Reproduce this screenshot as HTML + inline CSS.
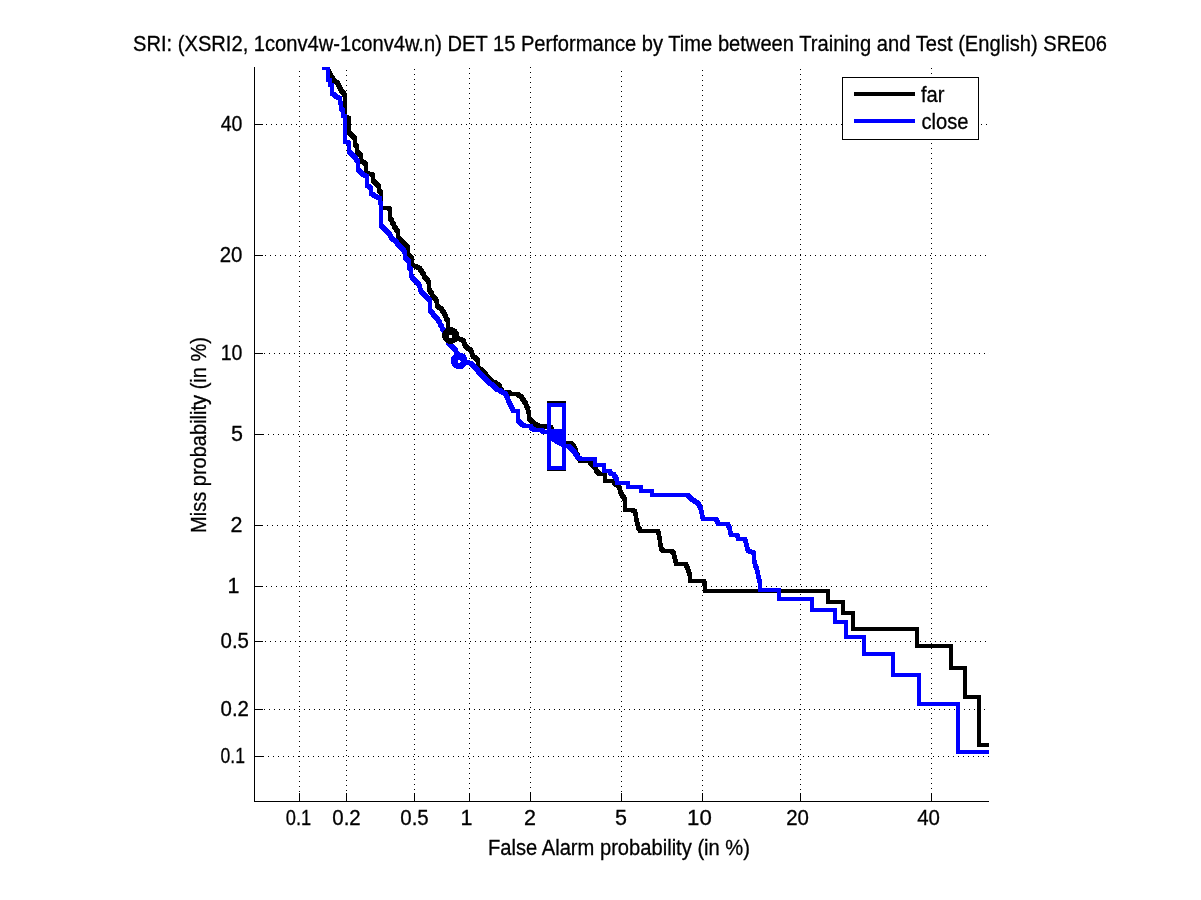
<!DOCTYPE html>
<html><head><meta charset="utf-8"><style>
html,body{margin:0;padding:0;background:#fff;}
svg{display:block;}
text{font-family:"Liberation Sans",Arial,sans-serif;font-size:21.5px;fill:#000;stroke:#000;stroke-width:0.3px;}
.tx{filter:grayscale(1);}
.g{stroke:#000;stroke-width:1;stroke-dasharray:1 4;shape-rendering:crispEdges;}
.a{stroke:#000;stroke-width:1;shape-rendering:crispEdges;}
.c{fill:none;stroke-width:4;stroke-linejoin:miter;stroke-linecap:square;shape-rendering:crispEdges;}
</style></head><body>
<svg width="1201" height="900" viewBox="0 0 1201 900">
<rect width="1201" height="900" fill="#fff"/>
<g>
<line x1="299.5" y1="71" x2="299.5" y2="801" class="g"/>
<line x1="346.5" y1="70" x2="346.5" y2="801" class="g"/>
<line x1="414.5" y1="69" x2="414.5" y2="801" class="g"/>
<line x1="469.5" y1="68" x2="469.5" y2="801" class="g"/>
<line x1="530.5" y1="67" x2="530.5" y2="801" class="g"/>
<line x1="621.5" y1="71" x2="621.5" y2="801" class="g"/>
<line x1="702.5" y1="70" x2="702.5" y2="801" class="g"/>
<line x1="800.5" y1="69" x2="800.5" y2="801" class="g"/>
<line x1="931.5" y1="68" x2="931.5" y2="801" class="g"/>
<line x1="256" y1="124.5" x2="989" y2="124.5" class="g"/>
<line x1="255" y1="255.5" x2="989" y2="255.5" class="g"/>
<line x1="254" y1="353.5" x2="989" y2="353.5" class="g"/>
<line x1="258" y1="434.5" x2="989" y2="434.5" class="g"/>
<line x1="257" y1="525.5" x2="989" y2="525.5" class="g"/>
<line x1="256" y1="586.5" x2="989" y2="586.5" class="g"/>
<line x1="255" y1="641.5" x2="989" y2="641.5" class="g"/>
<line x1="254" y1="709.5" x2="989" y2="709.5" class="g"/>
<line x1="258" y1="756.5" x2="989" y2="756.5" class="g"/>
</g>
<g>
<line x1="254.5" y1="67" x2="254.5" y2="802" class="a"/>
<line x1="254" y1="801.5" x2="989" y2="801.5" class="a"/>
<line x1="299.5" y1="793" x2="299.5" y2="802" class="a"/>
<line x1="346.5" y1="793" x2="346.5" y2="802" class="a"/>
<line x1="414.5" y1="793" x2="414.5" y2="802" class="a"/>
<line x1="469.5" y1="793" x2="469.5" y2="802" class="a"/>
<line x1="530.5" y1="793" x2="530.5" y2="802" class="a"/>
<line x1="621.5" y1="793" x2="621.5" y2="802" class="a"/>
<line x1="702.5" y1="793" x2="702.5" y2="802" class="a"/>
<line x1="800.5" y1="793" x2="800.5" y2="802" class="a"/>
<line x1="931.5" y1="793" x2="931.5" y2="802" class="a"/>
<line x1="254" y1="124.5" x2="263" y2="124.5" class="a"/>
<line x1="254" y1="255.5" x2="263" y2="255.5" class="a"/>
<line x1="254" y1="353.5" x2="263" y2="353.5" class="a"/>
<line x1="254" y1="434.5" x2="263" y2="434.5" class="a"/>
<line x1="254" y1="525.5" x2="263" y2="525.5" class="a"/>
<line x1="254" y1="586.5" x2="263" y2="586.5" class="a"/>
<line x1="254" y1="641.5" x2="263" y2="641.5" class="a"/>
<line x1="254" y1="709.5" x2="263" y2="709.5" class="a"/>
<line x1="254" y1="756.5" x2="263" y2="756.5" class="a"/>
</g>
<g class="tx">
<text x="298.50" y="825.00" text-anchor="middle" textLength="25.41" lengthAdjust="spacingAndGlyphs">0.1</text>
<text x="346.50" y="825.00" text-anchor="middle" textLength="28.41" lengthAdjust="spacingAndGlyphs">0.2</text>
<text x="414.50" y="825.00" text-anchor="middle" textLength="28.41" lengthAdjust="spacingAndGlyphs">0.5</text>
<text x="466.50" y="825.00" text-anchor="middle">1</text>
<text x="530.00" y="825.00" text-anchor="middle">2</text>
<text x="621.00" y="825.00" text-anchor="middle">5</text>
<text x="699.50" y="825.00" text-anchor="middle" textLength="24.72" lengthAdjust="spacingAndGlyphs">10</text>
<text x="797.50" y="825.00" text-anchor="middle" textLength="22.72" lengthAdjust="spacingAndGlyphs">20</text>
<text x="928.50" y="825.00" text-anchor="middle" textLength="22.72" lengthAdjust="spacingAndGlyphs">40</text>
<text x="242.50" y="131.00" text-anchor="end" textLength="21.72" lengthAdjust="spacingAndGlyphs">40</text>
<text x="242.50" y="262.00" text-anchor="end" textLength="22.72" lengthAdjust="spacingAndGlyphs">20</text>
<text x="242.50" y="360.00" text-anchor="end" textLength="21.72" lengthAdjust="spacingAndGlyphs">10</text>
<text x="243.00" y="441.00" text-anchor="end">5</text>
<text x="242.50" y="532.00" text-anchor="end">2</text>
<text x="239.50" y="593.00" text-anchor="end">1</text>
<text x="249.00" y="648.00" text-anchor="end" textLength="28.41" lengthAdjust="spacingAndGlyphs">0.5</text>
<text x="249.00" y="716.00" text-anchor="end" textLength="28.41" lengthAdjust="spacingAndGlyphs">0.2</text>
<text x="245.00" y="763.00" text-anchor="end" textLength="24.41" lengthAdjust="spacingAndGlyphs">0.1</text>
<text x="133.00" y="51.00" textLength="974.00" lengthAdjust="spacingAndGlyphs">SRI: (XSRI2, 1conv4w-1conv4w.n) DET 15 Performance by Time between Training and Test (English) SRE06</text>
<text x="488.00" y="855.00" textLength="262.00" lengthAdjust="spacingAndGlyphs">False Alarm probability (in %)</text>
<g transform="translate(206,531) rotate(-90)"><text x="-2.00" y="0.00" textLength="196.00" lengthAdjust="spacingAndGlyphs">Miss probability (in %)</text></g>
</g>
<svg x="254" y="67" width="735" height="734" viewBox="254 67 735 734" overflow="hidden">
<polyline class="c" stroke="#000" points="328,30 328,70 328,71 329,71 329,72 329,73 330,73 330,74 330,75 331,75 331,76 331,77 332,77 332,78 333,78 333,79 333,80 334,80 334,81 335,81 335,82 336,82 337,82 337,83 338,83 338,84 338,85 339,85 339,86 339,87 340,87 340,88 340,89 341,89 341,90 341,91 342,91 342,92 343,92 343,93 344,93 344,94 344,95 345,95 345,96 345,117 346,117 347,117 347,118 348,118 349,118 349,133 350,133 350,134 351,134 351,135 352,135 352,136 353,136 353,137 354,137 354,138 355,138 355,139 355,145 356,145 356,146 357,146 357,152 358,152 358,153 359,153 359,154 360,154 360,155 361,155 361,156 361,161 362,161 362,162 363,162 364,162 364,163 365,163 365,164 366,164 366,173 367,173 368,173 368,174 369,174 370,174 371,174 372,174 372,175 373,175 373,181 374,181 374,182 375,182 375,183 376,183 376,184 377,184 377,185 378,185 378,186 379,186 379,187 379,191 380,191 380,192 381,192 381,193 381,208 388,208 389,208 389,209 390,209 390,210 390,218 390,219 391,219 391,220 392,220 392,221 392,222 392,223 393,223 393,224 394,224 394,225 394,226 394,227 395,227 395,228 396,228 396,229 396,230 397,230 397,231 398,231 398,232 398,238 399,238 399,239 400,239 400,240 401,240 401,241 402,241 402,242 403,242 403,243 404,243 404,244 405,244 405,245 406,245 406,246 407,246 407,247 408,247 408,248 408,255 409,255 409,256 410,256 410,257 411,257 411,258 412,258 412,259 412,265 413,265 413,266 414,266 415,266 416,266 416,267 417,267 418,267 418,268 419,268 420,268 420,269 420,270 421,270 421,271 422,271 422,272 422,273 423,273 423,274 424,274 424,275 424,276 424,277 425,277 425,278 426,278 426,279 427,279 427,280 428,280 428,281 428,282 429,282 429,283 429,284 429,290 430,290 430,291 430,292 431,292 431,293 432,293 432,294 432,295 432,296 433,296 433,297 434,297 434,298 435,298 435,299 436,299 436,300 436,301 437,301 437,302 437,303 437,306 438,306 438,307 439,307 439,308 440,308 441,308 441,309 442,309 442,310 442,311 443,311 443,312 444,312 444,313 444,314 445,314 445,315 445,316 446,316 446,317 446,318 446,319 447,319 447,320 448,320 448,321 448,322 448,328 448,329 449,329 449,330 449,331 449,332 449,333 450,333 450,334 450,335 451,335 451,336 452,336 453,336 453,337 454,337 455,337 455,338 456,338 457,338 458,338 458,339 459,339 460,339 461,339 461,340 462,340 463,340 463,341 464,341 464,342 464,343 464,344 465,344 465,345 465,346 466,346 466,347 467,347 467,348 468,348 468,349 469,349 470,349 470,350 471,350 471,351 471,352 472,352 472,353 472,354 472,355 473,355 473,356 473,357 474,357 475,357 475,358 476,358 476,359 477,359 477,360 478,360 478,361 478,362 478,368 479,368 479,369 480,369 481,369 481,370 482,370 482,371 483,371 483,372 484,372 484,373 485,373 485,374 486,374 486,375 486,376 487,376 487,377 488,377 488,378 489,378 489,379 490,379 490,380 491,380 491,381 492,381 492,382 493,382 494,382 495,382 495,383 496,383 496,384 497,384 498,384 498,385 499,385 499,386 500,386 500,387 500,388 500,389 501,389 501,390 502,390 502,391 502,392 508,392 509,392 509,393 510,393 510,394 516,394 517,394 518,394 518,395 519,395 519,396 520,396 521,396 521,397 522,397 522,398 522,399 523,399 523,400 524,400 524,401 524,402 525,402 525,403 526,403 526,404 526,405 526,406 527,406 527,407 527,408 528,408 528,409 528,410 528,411 528,412 529,412 529,413 529,414 529,415 529,419 530,419 530,420 531,420 531,421 532,421 532,422 533,422 533,423 534,423 534,424 535,424 536,424 536,425 537,425 538,425 538,426 539,426 540,426 541,426 542,426 543,426 544,426 545,426 546,426 546,427 547,427 548,427 549,427 550,427 551,427 551,428 551,429 552,429 552,430 552,431 552,432 552,433 553,433 553,434 554,434 554,435 554,436 555,436 555,437 556,437 556,438 557,438 557,439 558,439 558,440 559,440 559,441 560,441 560,442 561,442 561,443 570,443 571,443 571,444 572,444 572,445 573,445 573,446 574,446 574,447 574,448 575,448 575,449 575,450 576,450 576,451 576,452 576,453 576,454 577,454 577,455 578,455 578,456 578,457 578,458 579,458 579,459 580,459 580,460 580,461 589,461 590,461 590,462 590,463 591,463 591,464 592,464 592,465 593,465 593,466 594,466 594,467 595,467 595,468 596,468 596,469 596,470 596,471 597,471 597,472 598,472 598,473 599,473 599,474 605,474 605,481 613,481 614,481 614,482 614,483 615,483 615,484 616,484 616,485 617,485 618,485 618,486 619,486 619,487 619,488 620,488 620,489 620,490 620,491 620,492 621,492 621,493 621,494 622,494 622,495 622,496 623,496 623,497 624,497 624,498 624,499 625,499 625,500 625,510 632,510 633,510 633,511 634,511 635,511 635,512 635,513 635,514 636,514 636,515 636,516 636,517 636,518 636,519 636,520 637,520 637,521 637,522 637,523 637,524 638,524 638,525 638,526 638,527 638,528 639,528 639,529 640,529 640,530 640,531 658,531 658,532 658,533 659,533 659,534 659,535 659,536 659,537 659,538 660,538 660,539 660,540 660,541 660,542 660,543 660,544 660,545 661,545 661,546 661,547 661,548 661,549 662,549 662,550 663,550 663,551 672,551 672,552 673,552 673,553 674,553 674,554 674,555 674,556 674,557 675,557 675,558 675,559 675,560 675,561 676,561 676,562 676,563 676,564 686,564 686,565 686,566 687,566 687,567 687,568 688,568 688,569 688,570 688,571 689,571 689,572 689,573 689,574 690,574 690,575 690,576 690,577 690,581 704,581 704,582 704,583 705,583 705,584 705,585 705,591 828,591 828,602 843,602 843,613 853,613 853,629 917,629 917,646 951,646 951,668 965,668 965,697 979,697 979,745 995,745"/>
<polyline class="c" stroke="#00f" points="324,30 324,68 328,68 328,80 330,80 330,85 332,85 332,94 333,94 334,94 334,95 335,95 335,96 336,96 336,97 337,97 338,97 338,98 339,98 340,98 340,99 340,103 341,103 341,104 341,109 342,109 342,110 343,110 343,116 344,116 345,116 345,117 345,142 346,142 347,142 348,142 348,143 349,143 349,152 350,152 350,153 351,153 351,154 352,154 352,155 353,155 353,156 354,156 354,157 355,157 355,158 356,158 356,159 356,160 357,160 357,161 358,161 358,162 358,163 358,170 359,170 359,171 360,171 360,172 361,172 361,173 362,173 362,174 363,174 363,175 364,175 365,175 365,176 366,176 367,176 367,177 367,186 368,186 369,186 369,187 370,187 370,188 371,188 371,189 371,194 372,194 373,194 373,195 374,195 374,196 375,196 376,196 376,197 377,197 378,197 378,198 379,198 380,198 380,199 380,203 381,203 381,204 381,226 382,226 382,227 383,227 383,228 384,228 384,229 385,229 385,230 386,230 386,231 387,231 387,232 388,232 388,233 389,233 389,234 390,234 390,235 390,236 391,236 391,237 391,238 392,238 392,239 393,239 393,240 394,240 395,240 395,241 396,241 396,242 397,242 397,243 397,244 398,244 398,245 399,245 399,246 400,246 400,247 401,247 401,248 402,248 402,249 403,249 403,250 404,250 404,251 404,252 405,252 405,253 405,258 406,258 406,259 407,259 407,260 408,260 408,261 409,261 409,262 409,268 410,268 410,269 411,269 411,270 411,276 412,276 412,277 412,278 413,278 413,279 414,279 414,280 415,280 415,281 416,281 416,282 417,282 417,283 418,283 418,284 419,284 419,285 419,286 420,286 420,287 420,288 420,289 420,290 421,290 421,291 421,292 422,292 422,293 423,293 423,294 424,294 424,295 425,295 425,296 426,296 426,297 427,297 427,298 428,298 428,299 429,299 429,300 430,300 430,301 430,311 431,311 431,312 432,312 432,313 433,313 433,314 433,315 434,315 434,316 435,316 435,317 436,317 436,318 437,318 437,319 438,319 438,320 438,321 439,321 439,322 440,322 440,323 440,324 440,325 441,325 441,326 442,326 442,327 442,328 442,329 443,329 443,330 444,330 444,331 444,332 444,333 445,333 445,334 445,335 446,335 446,336 446,337 446,338 447,338 447,339 447,340 448,340 448,341 448,342 448,343 449,343 449,344 450,344 450,345 451,345 451,346 452,346 452,347 453,347 453,348 454,348 454,349 455,349 455,350 456,350 456,351 456,352 456,353 457,353 457,354 457,355 458,355 458,356 458,357 458,358 459,358 459,359 459,360 460,360 461,360 461,361 462,361 463,361 464,361 464,362 465,362 466,362 467,362 468,362 468,363 469,363 470,363 471,363 471,364 472,364 472,365 473,365 473,366 474,366 474,367 475,367 475,368 476,368 476,369 477,369 477,370 478,370 478,371 478,372 479,372 479,373 480,373 480,374 481,374 481,375 482,375 482,376 483,376 483,377 484,377 484,378 485,378 485,379 486,379 486,380 487,380 487,381 488,381 488,382 489,382 489,383 490,383 490,384 491,384 492,384 492,385 493,385 493,386 494,386 494,387 495,387 495,388 496,388 496,389 497,389 497,390 498,390 499,390 500,390 500,391 501,391 501,392 502,392 503,392 503,393 504,393 505,393 505,394 506,394 506,395 506,396 507,396 507,397 507,398 508,398 508,399 508,400 508,401 509,401 509,402 509,403 510,403 510,404 510,405 511,405 511,406 511,407 512,407 512,408 512,409 513,409 513,410 513,411 518,411 518,421 519,421 519,422 520,422 520,423 521,423 521,424 522,424 522,425 523,425 524,425 524,426 530,426 531,426 531,427 531,428 532,428 532,429 533,429 534,429 534,430 535,430 536,430 542,430 542,431 543,431 543,432 549,432 550,432 550,433 551,433 551,434 552,434 552,435 552,436 553,436 553,437 554,437 554,438 555,438 555,439 556,439 556,440 557,440 557,441 558,441 558,442 559,442 560,442 560,443 561,443 561,444 562,444 563,444 563,445 564,445 564,446 568,446 569,446 569,447 570,447 570,448 571,448 571,449 572,449 572,450 573,450 573,451 574,451 574,452 575,452 575,453 575,454 576,454 576,455 577,455 577,456 577,457 578,457 578,458 579,458 580,458 580,459 595,459 595,465 604,465 604,471 609,471 610,471 610,472 610,473 611,473 611,474 613,474 614,474 614,475 614,476 615,476 615,477 616,477 616,478 616,479 617,479 617,480 617,483 628,483 628,487 641,487 641,491 652,491 652,495 687,495 688,495 688,496 689,496 689,497 690,497 690,498 691,498 691,499 692,499 692,500 693,500 694,500 694,501 695,501 695,502 696,502 697,502 697,503 698,503 698,504 699,504 699,505 699,506 700,506 700,507 700,508 701,508 701,509 701,510 701,511 701,512 702,512 702,513 702,514 702,515 702,516 702,517 703,517 703,518 703,519 716,519 716,520 717,520 717,521 717,522 718,522 718,523 718,524 727,524 728,524 728,525 728,526 729,526 729,527 729,528 730,528 730,529 730,530 730,531 730,532 730,533 731,533 731,534 731,535 737,535 737,536 738,536 738,537 738,538 738,539 744,539 745,539 745,540 745,541 746,541 746,542 746,543 746,544 746,545 747,545 747,546 747,547 747,548 747,549 748,549 748,550 748,551 749,551 750,551 750,552 751,552 752,552 753,552 753,553 754,553 754,560 754,561 754,562 755,562 755,563 755,564 755,565 755,566 756,566 756,567 756,568 757,568 757,569 757,570 757,571 757,572 758,572 758,573 758,574 758,575 758,576 758,577 759,577 759,578 759,579 759,580 759,581 760,581 760,582 760,583 760,590 779,590 779,599 812,599 812,610 835,610 835,622 846,622 846,637 864,637 864,654 893,654 893,675 919,675 919,704 958,704 958,752 995,752"/>

<rect x="549" y="403" width="15" height="66" fill="none" stroke="#000" stroke-width="4" shape-rendering="crispEdges"/>
<circle cx="450.6" cy="335.5" r="5.25" fill="none" stroke="#000" stroke-width="6.5" shape-rendering="crispEdges"/>
<circle cx="450.6" cy="336.4" r="1.6" fill="#fff" shape-rendering="crispEdges"/>
<rect x="549" y="405" width="15" height="63" fill="none" stroke="#00f" stroke-width="4" shape-rendering="crispEdges"/>
<polygon points="550,429 562,429 562,446 558,445 553,442 550,441" fill="#00f" shape-rendering="crispEdges"/>
<circle cx="459.2" cy="360.8" r="5.25" fill="none" stroke="#00f" stroke-width="6.5" shape-rendering="crispEdges"/>
<circle cx="459.1" cy="361.7" r="1.6" fill="#fff" shape-rendering="crispEdges"/>

</svg>
<g>
<rect x="842.5" y="77.5" width="136" height="62" fill="#fff" stroke="#000" stroke-width="1" shape-rendering="crispEdges"/>
<line x1="854" y1="94" x2="915" y2="94" stroke="#000" stroke-width="4" shape-rendering="crispEdges"/>
<line x1="854" y1="121" x2="915" y2="121" stroke="#00f" stroke-width="4" shape-rendering="crispEdges"/>
<g class="tx">
<text x="921.00" y="102.00" textLength="23.50" lengthAdjust="spacingAndGlyphs">far</text>
<text x="921.50" y="129.00" textLength="47.00" lengthAdjust="spacingAndGlyphs">close</text>
</g>
</g>
</svg>
</body></html>
